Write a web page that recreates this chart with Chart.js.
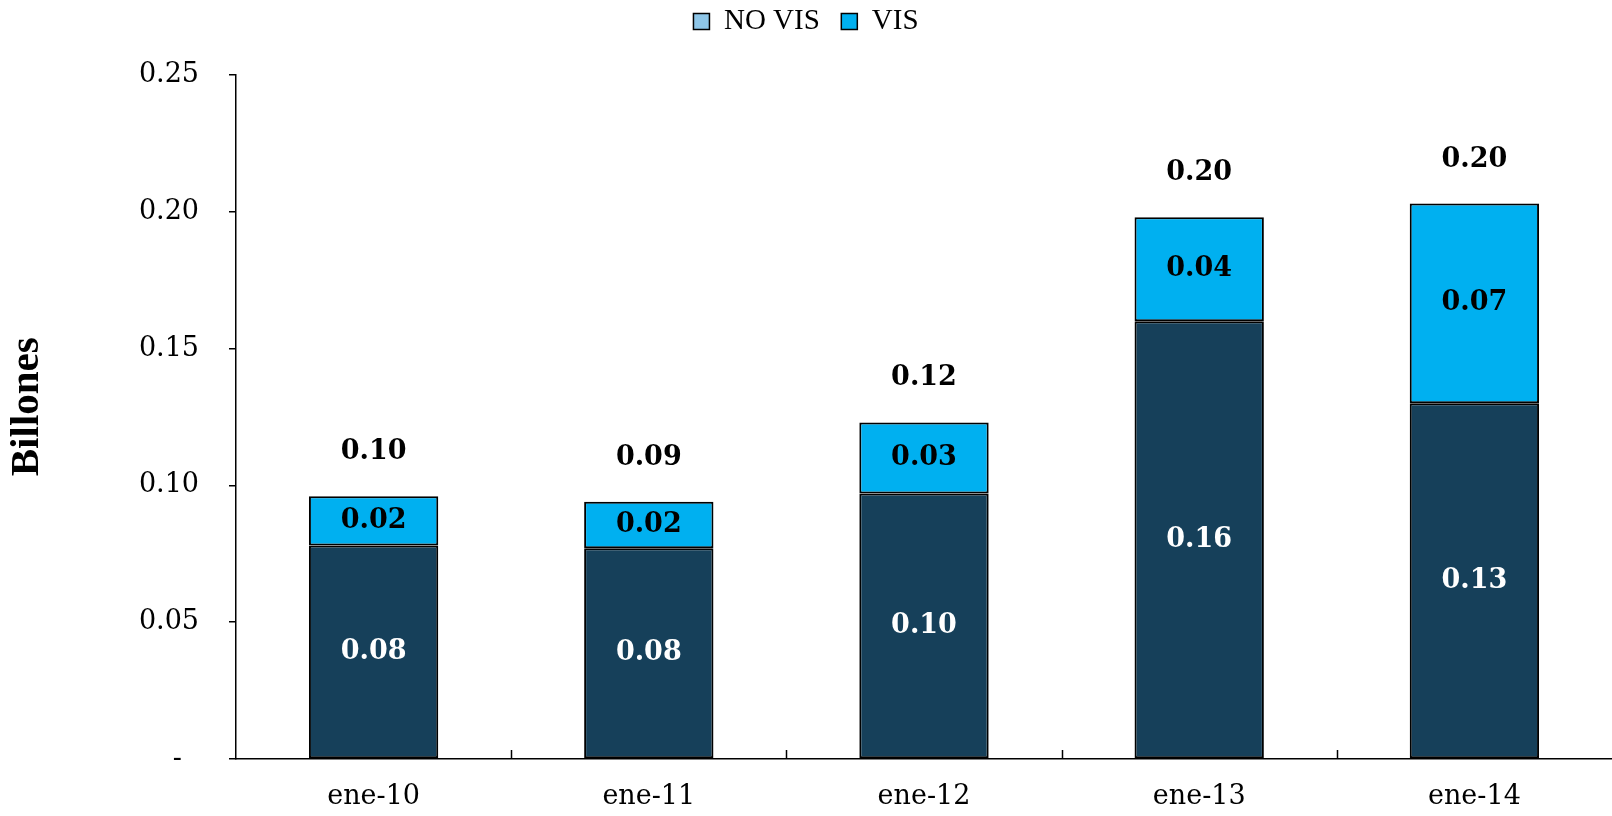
<!DOCTYPE html>
<html>
<head>
<meta charset="utf-8">
<title>Billones por año</title>
<script src="https://cdn.jsdelivr.net/npm/chart.js@4"></script>
<style>
  html, body { margin: 0; padding: 0; background: #ffffff; }
  #wrap { width: 1612px; height: 816px; position: relative; }
</style>
</head>
<body>
<div id="wrap"><canvas id="chart"></canvas></div>
<script>
// Categories and series values (billones)
const categories = ['ene-10', 'ene-11', 'ene-12', 'ene-13', 'ene-14'];
const seriesNames = ['NO VIS', 'VIS'];
const noVis = [0.078, 0.077, 0.097, 0.160, 0.130];
const vis   = [0.018, 0.017, 0.026, 0.038, 0.073];
const yTicks = [0, 0.05, 0.10, 0.15, 0.20, 0.25];

const NAVY = '#16405A';
const CYAN = '#00B0F0';
const legendSwatches = ['#8EC6E8', CYAN];

// Value labels: each segment centred, totals above the stack
const valueLabels = {
  id: 'valueLabels',
  afterDatasetsDraw(chart) {
    const ctx = chart.ctx;
    ctx.save();
    ctx.textAlign = 'center';
    ctx.textBaseline = 'middle';
    ctx.font = 'bold 27px "DejaVu Serif", serif';
    chart.data.datasets.forEach((ds, di) => {
      const meta = chart.getDatasetMeta(di);
      meta.data.forEach((bar, i) => {
        const p = bar.getProps(['x', 'y', 'base'], true);
        ctx.fillStyle = di === 0 ? '#ffffff' : '#000000';
        ctx.fillText(ds.data[i].toFixed(2), p.x, (p.y + p.base) / 2);
      });
    });
    const topMeta = chart.getDatasetMeta(1);
    topMeta.data.forEach((bar, i) => {
      const total = noVis[i] + vis[i];
      ctx.fillStyle = '#000000';
      ctx.fillText(total.toFixed(2), bar.x, bar.y - 44);
    });
    ctx.restore();
  }
};

// Short upward tick marks between categories on the x axis
const categoryTicks = {
  id: 'categoryTicks',
  afterDraw(chart) {
    const xs = chart.scales.x;
    const ctx = chart.ctx;
    ctx.save();
    ctx.strokeStyle = '#000000';
    ctx.lineWidth = 1.5;
    for (let i = 0; i < categories.length - 1; i++) {
      const x = Math.round((xs.getPixelForValue(i) + xs.getPixelForValue(i + 1)) / 2) + 0.5;
      ctx.beginPath();
      ctx.moveTo(x, xs.top);
      ctx.lineTo(x, xs.top - 9);
      ctx.stroke();
    }
    ctx.restore();
  }
};

// Extra space below the legend
const legendGap = {
  id: 'legendGap',
  beforeInit(chart) {
    const orig = chart.legend.fit;
    chart.legend.fit = function () {
      orig.call(this);
      this.height += 29;
    };
  }
};

Chart.defaults.font.family = '"DejaVu Serif", serif';
Chart.defaults.color = '#000000';

new Chart(document.getElementById('chart'), {
  type: 'bar',
  data: {
    labels: categories,
    datasets: [
      {
        label: seriesNames[0],
        data: noVis,
        backgroundColor: NAVY,
        borderColor: '#000000',
        borderWidth: 2,
        borderSkipped: false,
        barPercentage: 0.47,
        categoryPercentage: 1
      },
      {
        label: seriesNames[1],
        data: vis,
        backgroundColor: CYAN,
        borderColor: '#000000',
        borderWidth: 2,
        borderSkipped: false,
        barPercentage: 0.47,
        categoryPercentage: 1
      }
    ]
  },
  options: {
    responsive: true,
    maintainAspectRatio: false,
    devicePixelRatio: 1,
    animation: false,
    layout: { padding: 0 },
    plugins: {
      tooltip: { enabled: false },
      legend: {
        position: 'top',
        labels: {
          font: { family: '"Liberation Serif", serif', size: 29 },
          color: '#000000',
          boxWidth: 16,
          boxHeight: 16,
          padding: 7,
          generateLabels(chart) {
            const items = Chart.defaults.plugins.legend.labels.generateLabels(chart);
            items.forEach((it, i) => {
              it.fillStyle = legendSwatches[i];
              it.strokeStyle = '#000000';
              it.lineWidth = 1.5;
              if (i === 0) it.text = it.text + '  ';
            });
            return items;
          }
        }
      }
    },
    scales: {
      x: {
        stacked: true,
        offset: true,
        grid: { display: false, drawTicks: false },
        border: { display: true, color: '#000000', width: 1.5 },
        ticks: {
          font: { size: 27 },
          color: '#000000',
          padding: 22,
          maxRotation: 0
        },
        afterFit(scale) { scale.height = 57; }
      },
      y: {
        stacked: true,
        min: 0,
        max: 0.25,
        afterBuildTicks(scale) {
          scale.ticks = yTicks.map(v => ({ value: v }));
        },
        grid: {
          display: true,
          drawOnChartArea: false,
          drawTicks: true,
          tickLength: 7,
          color: '#000000',
          lineWidth: 1.5
        },
        border: { display: true, color: '#000000', width: 1.5 },
        ticks: {
          font: { size: 27 },
          color: '#000000',
          padding: 30,
          callback(value) {
            return value === 0 ? '-  ' : Number(value).toFixed(2);
          }
        },
        title: {
          display: true,
          text: '  Billones',
          color: '#000000',
          font: { family: '"Liberation Serif", serif', size: 41, weight: 'bold' },
          padding: { top: 3, bottom: 0 }
        },
        afterFit(scale) { scale.width = 236; }
      }
    }
  },
  plugins: [legendGap, valueLabels, categoryTicks]
});
</script>
</body>
</html>
